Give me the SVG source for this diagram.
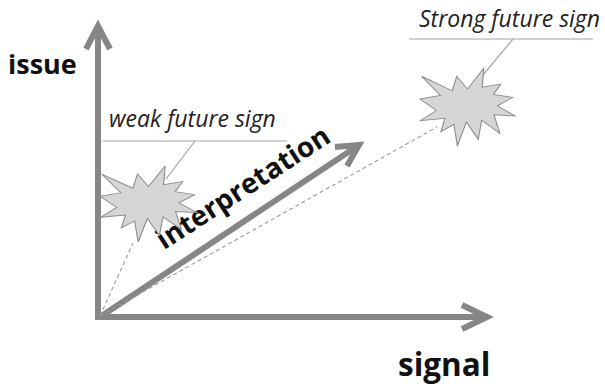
<svg xmlns="http://www.w3.org/2000/svg" xmlns:xlink="http://www.w3.org/1999/xlink" width="605" height="391" viewBox="0 0 605 391">
  <style>
    .axis { fill: none; stroke: #868686; stroke-width: 6; stroke-linejoin: miter; stroke-linecap: butt; }
    .head { fill: none; stroke: #868686; stroke-width: 6; stroke-linejoin: miter; stroke-linecap: butt; }
    .dash { fill: none; stroke: #999; stroke-width: 1.1; stroke-dasharray: 4 3; }
    .leader { fill: none; stroke: #a3a3a3; stroke-width: 1.2; }
    .seal { fill: #d6d6d6; stroke: #8e8e8e; stroke-width: 1.2; }
    .big { font-family: "Open Sans", "Liberation Sans", sans-serif; font-weight: bold; fill: #111; }
    .note { font-family: "Open Sans", "Liberation Sans", sans-serif; font-style: italic; fill: #222; }
  </style>
  <defs>
    <!-- explosion outline on a 100x100 box -->
    <path id="seal" d="M50,26.85 L67.2,0 L65.5,24.65 L85.1,20.6 L77.4,33.9 L97.7,37.7 L81.5,48.5 L100,61.5 L77.9,59.9 L84,83.8 L64.9,66.9 L61.3,91.3 L48.8,69.1 L39.3,100 L35.7,72.3 L22,81.5 L26.2,64.5 L0.6,67.5 L17.2,54.5 L0,39.9 L21.4,35.3 L1.7,10.6 L33.9,29.3 L38.7,10.6 Z"/>
  </defs>

  <!-- axes -->
  <g id="axis-issue">
    <line class="axis" x1="98" y1="320" x2="98" y2="27"/>
    <polyline class="head" points="86,49 98,26 110,49"/>
    <text class="big" x="8" y="74" font-size="27">issue</text>
  </g>
  <g id="axis-signal">
    <line class="axis" x1="95" y1="317" x2="486" y2="317"/>
    <polyline class="head" points="462,305 487,317 462,329"/>
    <text class="big" x="398" y="376" font-size="31.5">signal</text>
  </g>

  <!-- interpretation arrow -->
  <g id="interpretation">
    <line class="axis" x1="100" y1="317" x2="359" y2="145"/>
    <polyline class="head" points="335,147 359,145 347,166"/>
    <text class="big" font-size="28" transform="translate(100,317) rotate(-33)" x="90" y="-21">interpretation</text>
  </g>

  <!-- weak sign -->
  <g id="weak-sign">
    <use xlink:href="#seal" class="seal" transform="translate(100,166) scale(0.97,0.76)" style="vector-effect:non-scaling-stroke"/>
    <text class="note" x="109" y="127" font-size="23">weak future sign</text>
  </g>

  <!-- strong sign -->
  <g id="strong-sign">
    <use xlink:href="#seal" class="seal" transform="translate(420,68) scale(0.95,0.78)"/>
    <text class="note" x="419" y="27" font-size="23">Strong future sign</text>
  </g>

  <!-- connectors: dashed projections and callout leaders -->
  <g id="connectors">
    <line class="dash" x1="100" y1="316" x2="133" y2="243"/>
    <line class="dash" x1="100" y1="316" x2="437" y2="127"/>
    <polyline class="leader" points="103,141 287,141"/>
    <line class="leader" x1="195" y1="141" x2="166" y2="179"/>
    <polyline class="leader" points="409,39 593,39"/>
    <line class="leader" x1="513" y1="39" x2="483" y2="75"/>
  </g>
</svg>
